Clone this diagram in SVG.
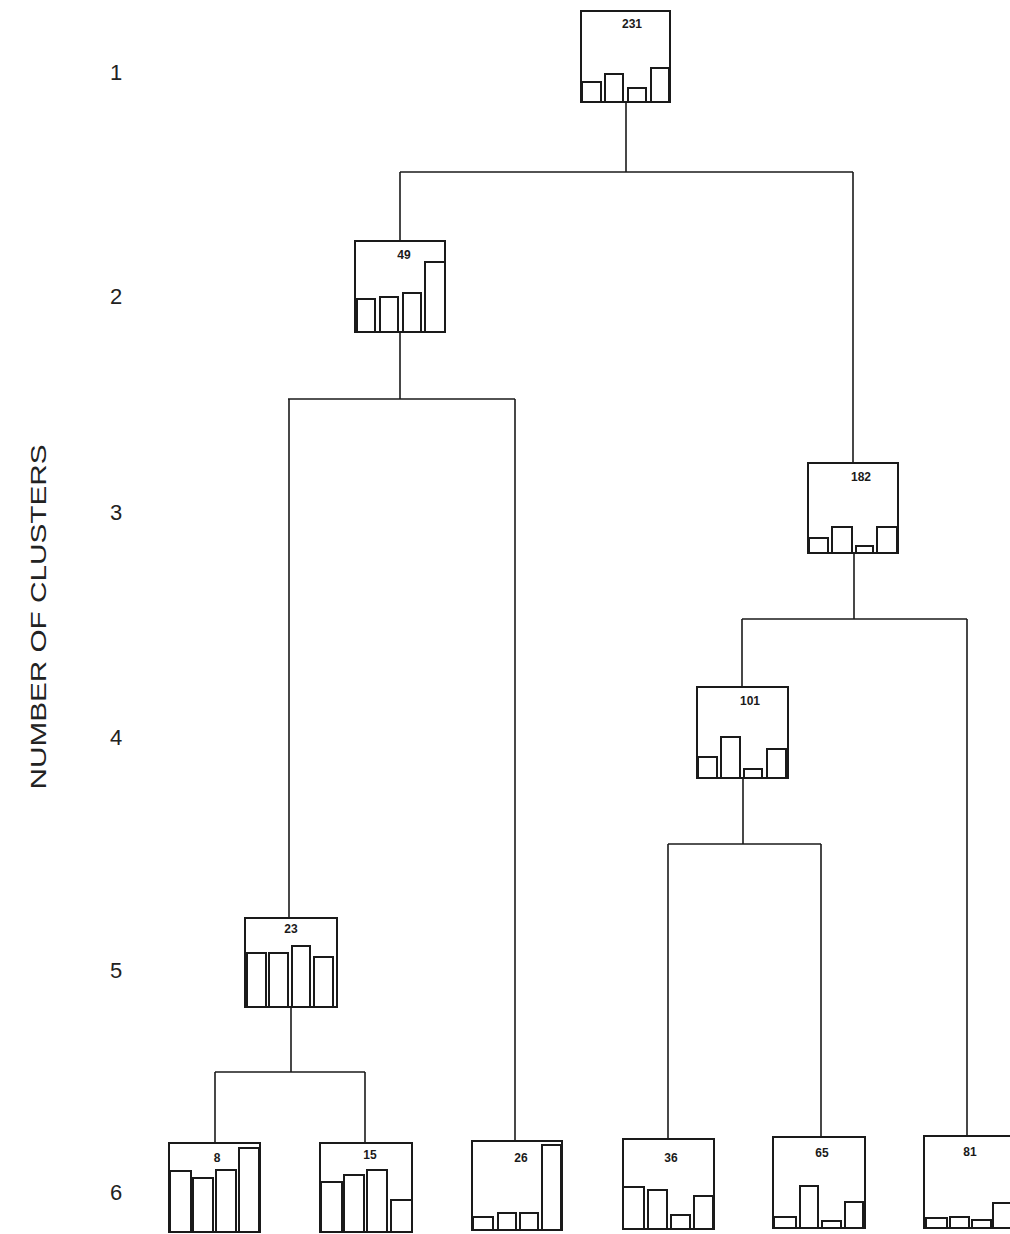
<svg xmlns="http://www.w3.org/2000/svg" width="1010" height="1234" viewBox="0 0 1010 1234">
<style>
.box{fill:#fff;stroke:#1a1a1a;stroke-width:2}
.bar{fill:#fff;stroke:#1a1a1a;stroke-width:2}
.lbl{font-family:"Liberation Sans",Arial,sans-serif;font-weight:bold;font-size:12px;fill:#1a1a1a;text-anchor:middle}
.ax{font-family:"Liberation Sans",Arial,sans-serif;font-size:22px;fill:#222;text-anchor:middle}
.conn line{stroke:#1a1a1a;stroke-width:1.6}
</style>
<rect width="1010" height="1234" fill="#fff"/>
<g id="axis">
<text class="ax" x="116" y="80">1</text>
<text class="ax" x="116" y="304">2</text>
<text class="ax" x="116" y="520">3</text>
<text class="ax" x="116" y="745">4</text>
<text class="ax" x="116" y="978">5</text>
<text class="ax" x="116" y="1200">6</text>
<text class="ax" transform="translate(46,617) rotate(-90)" x="0" y="0" font-size="26" textLength="345" lengthAdjust="spacingAndGlyphs">NUMBER OF CLUSTERS</text>
</g>
<g class="conn" id="connectors">
<line x1="626" y1="103" x2="626" y2="172"/>
<line x1="400" y1="172" x2="853" y2="172"/>
<line x1="400" y1="172" x2="400" y2="241"/>
<line x1="853" y1="172" x2="853" y2="463"/>
<line x1="400" y1="332" x2="400" y2="399"/>
<line x1="288" y1="399" x2="515" y2="399"/>
<line x1="289" y1="399" x2="289" y2="918"/>
<line x1="515" y1="399" x2="515" y2="1141"/>
<line x1="854" y1="553" x2="854" y2="619"/>
<line x1="742" y1="619" x2="967" y2="619"/>
<line x1="742" y1="619" x2="742" y2="687"/>
<line x1="967" y1="619" x2="967" y2="1136"/>
<line x1="743" y1="778" x2="743" y2="844"/>
<line x1="668" y1="844" x2="821" y2="844"/>
<line x1="668" y1="844" x2="668" y2="1139"/>
<line x1="821" y1="844" x2="821" y2="1137"/>
<line x1="291" y1="1007" x2="291" y2="1072"/>
<line x1="215" y1="1072" x2="365" y2="1072"/>
<line x1="215" y1="1072" x2="215" y2="1143"/>
<line x1="365" y1="1072" x2="365" y2="1143"/>
</g>
<g id="n231">
<rect class="box" x="581" y="11" width="89" height="91"/>
<rect class="bar" x="582" y="82" width="19" height="20"/>
<rect class="bar" x="605" y="74" width="18" height="28"/>
<rect class="bar" x="628" y="88" width="18" height="14"/>
<rect class="bar" x="651" y="68" width="18" height="34"/>
<text class="lbl" x="632" y="28">231</text>
</g>
<g id="n49">
<rect class="box" x="355" y="241" width="90" height="91"/>
<rect class="bar" x="357" y="299" width="18" height="33"/>
<rect class="bar" x="380" y="297" width="18" height="35"/>
<rect class="bar" x="403" y="293" width="18" height="39"/>
<rect class="bar" x="425" y="262" width="20" height="70"/>
<text class="lbl" x="404" y="259">49</text>
</g>
<g id="n182">
<rect class="box" x="808" y="463" width="90" height="90"/>
<rect class="bar" x="809" y="538" width="19" height="15"/>
<rect class="bar" x="832" y="527" width="20" height="26"/>
<rect class="bar" x="856" y="546" width="17" height="7"/>
<rect class="bar" x="877" y="527" width="20" height="26"/>
<text class="lbl" x="861" y="481">182</text>
</g>
<g id="n101">
<rect class="box" x="697" y="687" width="91" height="91"/>
<rect class="bar" x="698" y="757" width="19" height="21"/>
<rect class="bar" x="721" y="737" width="19" height="41"/>
<rect class="bar" x="744" y="769" width="18" height="9"/>
<rect class="bar" x="767" y="749" width="19" height="29"/>
<text class="lbl" x="750" y="705">101</text>
</g>
<g id="n23">
<rect class="box" x="245" y="918" width="92" height="89"/>
<rect class="bar" x="247" y="953" width="19" height="54"/>
<rect class="bar" x="269" y="953" width="19" height="54"/>
<rect class="bar" x="292" y="946" width="18" height="61"/>
<rect class="bar" x="314" y="957" width="19" height="50"/>
<text class="lbl" x="291" y="933">23</text>
</g>
<g id="n8">
<rect class="box" x="169" y="1143" width="91" height="89"/>
<rect class="bar" x="170" y="1171" width="21" height="61"/>
<rect class="bar" x="193" y="1178" width="20" height="54"/>
<rect class="bar" x="216" y="1170" width="20" height="62"/>
<rect class="bar" x="239" y="1148" width="20" height="84"/>
<text class="lbl" x="217" y="1162">8</text>
</g>
<g id="n15">
<rect class="box" x="320" y="1143" width="92" height="89"/>
<rect class="bar" x="321" y="1182" width="21" height="50"/>
<rect class="bar" x="344" y="1175" width="20" height="57"/>
<rect class="bar" x="367" y="1170" width="20" height="62"/>
<rect class="bar" x="391" y="1200" width="21" height="32"/>
<text class="lbl" x="370" y="1159">15</text>
</g>
<g id="n26">
<rect class="box" x="472" y="1141" width="90" height="89"/>
<rect class="bar" x="473" y="1217" width="20" height="13"/>
<rect class="bar" x="498" y="1213" width="18" height="17"/>
<rect class="bar" x="520" y="1213" width="18" height="17"/>
<rect class="bar" x="542" y="1145" width="19" height="85"/>
<text class="lbl" x="521" y="1162">26</text>
</g>
<g id="n36">
<rect class="box" x="623" y="1139" width="91" height="90"/>
<rect class="bar" x="623" y="1187" width="21" height="42"/>
<rect class="bar" x="648" y="1190" width="19" height="39"/>
<rect class="bar" x="671" y="1215" width="19" height="14"/>
<rect class="bar" x="694" y="1196" width="19" height="33"/>
<text class="lbl" x="671" y="1162">36</text>
</g>
<g id="n65">
<rect class="box" x="773" y="1137" width="92" height="91"/>
<rect class="bar" x="774" y="1217" width="22" height="11"/>
<rect class="bar" x="800" y="1186" width="18" height="42"/>
<rect class="bar" x="822" y="1221" width="19" height="7"/>
<rect class="bar" x="845" y="1202" width="18" height="26"/>
<text class="lbl" x="822" y="1157">65</text>
</g>
<g id="n81">
<rect class="box" x="924" y="1136" width="92" height="92"/>
<rect class="bar" x="926" y="1218" width="21" height="10"/>
<rect class="bar" x="950" y="1217" width="19" height="11"/>
<rect class="bar" x="972" y="1220" width="19" height="8"/>
<rect class="bar" x="993" y="1203" width="20" height="25"/>
<text class="lbl" x="970" y="1156">81</text>
</g>
</svg>
